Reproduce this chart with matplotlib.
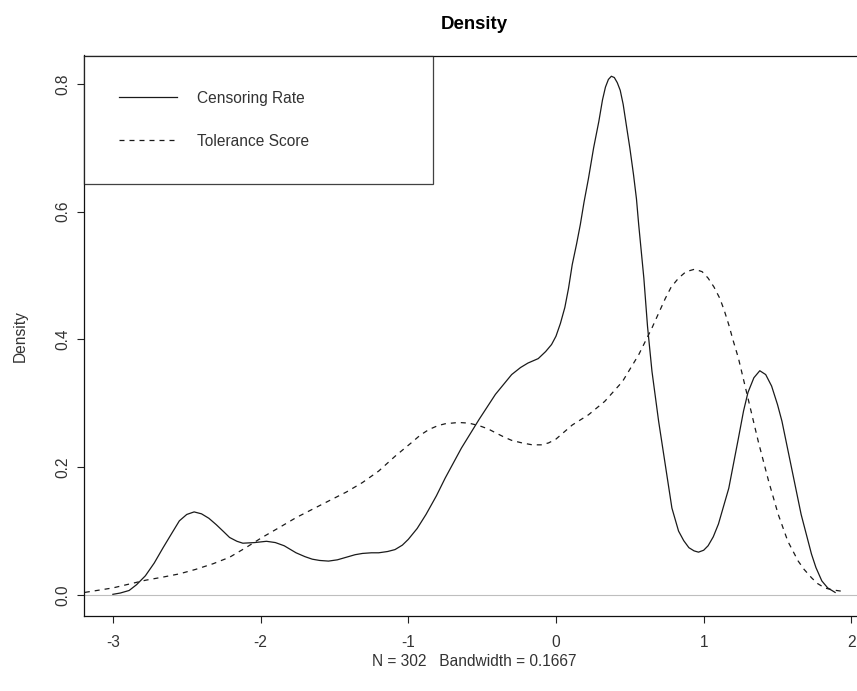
import matplotlib.pyplot as plt
import numpy as np

plt.rcParams['font.family'] = ['Liberation Sans', 'DejaVu Sans']

# kernel density estimates (x grid, density)
cens_x = [-3.00, -2.95, -2.89, -2.84, -2.78, -2.72, -2.66, -2.60, -2.55, -2.50,
          -2.45, -2.40, -2.35, -2.30, -2.25, -2.21, -2.16, -2.12, -2.04, -1.96,
          -1.90, -1.84, -1.76, -1.70, -1.65, -1.60, -1.54, -1.48, -1.42, -1.36,
          -1.31, -1.25, -1.20, -1.14, -1.09, -1.04, -1.00, -0.94, -0.88, -0.81,
          -0.75, -0.64, -0.52, -0.41, -0.30, -0.24, -0.19, -0.12, -0.07, -0.03,
          0.00, 0.03, 0.06, 0.085, 0.11, 0.14, 0.165, 0.19, 0.22, 0.255,
          0.29, 0.315, 0.335, 0.355, 0.375, 0.395, 0.415, 0.435, 0.455, 0.48,
          0.50, 0.525, 0.545, 0.56, 0.595, 0.62, 0.65, 0.695, 0.74, 0.785,
          0.83, 0.865, 0.90, 0.935, 0.965, 1.00, 1.03, 1.065, 1.10, 1.17,
          1.235, 1.27, 1.30, 1.34, 1.38, 1.42, 1.46, 1.50, 1.53, 1.595,
          1.66, 1.73, 1.76, 1.80, 1.84, 1.89]
cens_y = [0.001, 0.003, 0.007, 0.016, 0.030, 0.050, 0.074, 0.097, 0.116, 0.126,
          0.130, 0.127, 0.120, 0.110, 0.099, 0.090, 0.084, 0.081, 0.082, 0.084,
          0.082, 0.077, 0.066, 0.060, 0.056, 0.054, 0.053, 0.055, 0.059, 0.063,
          0.065, 0.066, 0.066, 0.068, 0.071, 0.078, 0.087, 0.104, 0.126, 0.155,
          0.183, 0.230, 0.275, 0.314, 0.345, 0.356, 0.363, 0.370, 0.381, 0.392,
          0.405, 0.425, 0.450, 0.480, 0.517, 0.550, 0.580, 0.615, 0.652, 0.700,
          0.741, 0.775, 0.795, 0.807, 0.812, 0.810, 0.802, 0.790, 0.768, 0.730,
          0.700, 0.658, 0.620, 0.580, 0.496, 0.420, 0.350, 0.272, 0.204, 0.136,
          0.100, 0.085, 0.074, 0.069, 0.067, 0.070, 0.077, 0.091, 0.111, 0.167,
          0.245, 0.288, 0.317, 0.340, 0.351, 0.345, 0.327, 0.298, 0.272, 0.199,
          0.126, 0.064, 0.043, 0.022, 0.011, 0.004]

tol_x = [-3.19, -3.00, -2.89, -2.78, -2.66, -2.55, -2.44, -2.32, -2.21, -2.10,
         -1.99, -1.87, -1.76, -1.65, -1.54, -1.42, -1.31, -1.20, -1.09, -0.97,
         -0.92, -0.86, -0.80, -0.75, -0.66, -0.59, -0.52, -0.46, -0.41, -0.35,
         -0.30, -0.23, -0.16, -0.10, -0.05, 0.00, 0.05, 0.11, 0.22, 0.33,
         0.45, 0.56, 0.65, 0.74, 0.78, 0.83, 0.88, 0.94, 0.99, 1.03,
         1.07, 1.11, 1.14, 1.17, 1.20, 1.235, 1.30, 1.37, 1.44, 1.505,
         1.57, 1.64, 1.68, 1.73, 1.77, 1.82, 1.87, 1.93]
tol_y = [0.004, 0.011, 0.017, 0.023, 0.028, 0.033, 0.040, 0.049, 0.059, 0.074,
         0.090, 0.106, 0.121, 0.134, 0.147, 0.161, 0.176, 0.194, 0.217, 0.240,
         0.250, 0.259, 0.265, 0.268, 0.270, 0.269, 0.265, 0.260, 0.254, 0.247,
         0.242, 0.238, 0.235, 0.235, 0.238, 0.244, 0.254, 0.266, 0.282, 0.303,
         0.334, 0.376, 0.418, 0.464, 0.482, 0.496, 0.506, 0.510, 0.506, 0.496,
         0.482, 0.464, 0.445, 0.423, 0.398, 0.371, 0.308, 0.240, 0.178, 0.126,
         0.084, 0.053, 0.040, 0.027, 0.018, 0.011, 0.008, 0.006]

n_obs = 302
bw = 0.1667

fig = plt.figure(figsize=(8.57, 6.91), dpi=100)
ax = fig.add_axes([84 / 857, 75.3 / 691, 780 / 857, 560.2 / 691])

ax.axhline(0, color='#bebebe', lw=0.8, zorder=1)
ax.plot(cens_x, cens_y, color='#1a1a1a', lw=0.9, solid_joinstyle='round',
        label='Censoring Rate')
ax.plot(tol_x, tol_y, color='#1a1a1a', lw=0.9, dashes=(4, 4), label='Tolerance Score')

# R style 4% padding around the first curve
xr = max(cens_x) - min(cens_x)
ax.set_xlim(min(cens_x) - 0.04 * xr, max(cens_x) + 0.04 * xr)
ymax = max(cens_y)
ax.set_ylim(-0.04 * ymax, 1.04 * ymax)

ax.set_xticks(np.arange(-3, 3))
ax.set_xticklabels([str(v) for v in range(-3, 3)])
ax.set_yticks([0.0, 0.2, 0.4, 0.6, 0.8])
ax.set_yticklabels(['0.0', '0.2', '0.4', '0.6', '0.8'])
ax.tick_params(direction='out', length=5, width=0.8, labelsize=11.2,
               colors='#222222', labelcolor='#333333')
ax.tick_params(axis='x', pad=9)
ax.tick_params(axis='y', pad=5, labelrotation=90)
for lbl in ax.get_yticklabels():
    lbl.set_va('center')

for s in ax.spines.values():
    s.set_linewidth(0.9)
    s.set_color('#111111')

ax.set_title('Density', fontsize=13.4, fontweight='bold', pad=19)
ax.set_ylabel('Density', fontsize=11.2, color='#333333')
ax.yaxis.set_label_coords(-0.072, 0.5)
ax.set_xlabel('N = %d   Bandwidth = %.4f' % (n_obs, bw), fontsize=11.2, color='#333333')
ax.xaxis.set_label_coords(0.5, -0.068)

leg = ax.legend(loc='upper left', bbox_to_anchor=(0, 1, 349 / 780, 0), mode='expand',
                borderaxespad=0, fontsize=11.2, frameon=True, fancybox=False,
                handlelength=3.7, handletextpad=1.3, borderpad=2.25, labelspacing=1.8)
leg.get_frame().set_edgecolor('#111111')
leg.get_frame().set_linewidth(0.9)
for t in leg.get_texts():
    t.set_color('#333333')

fig.savefig('out.png', dpi=100)
